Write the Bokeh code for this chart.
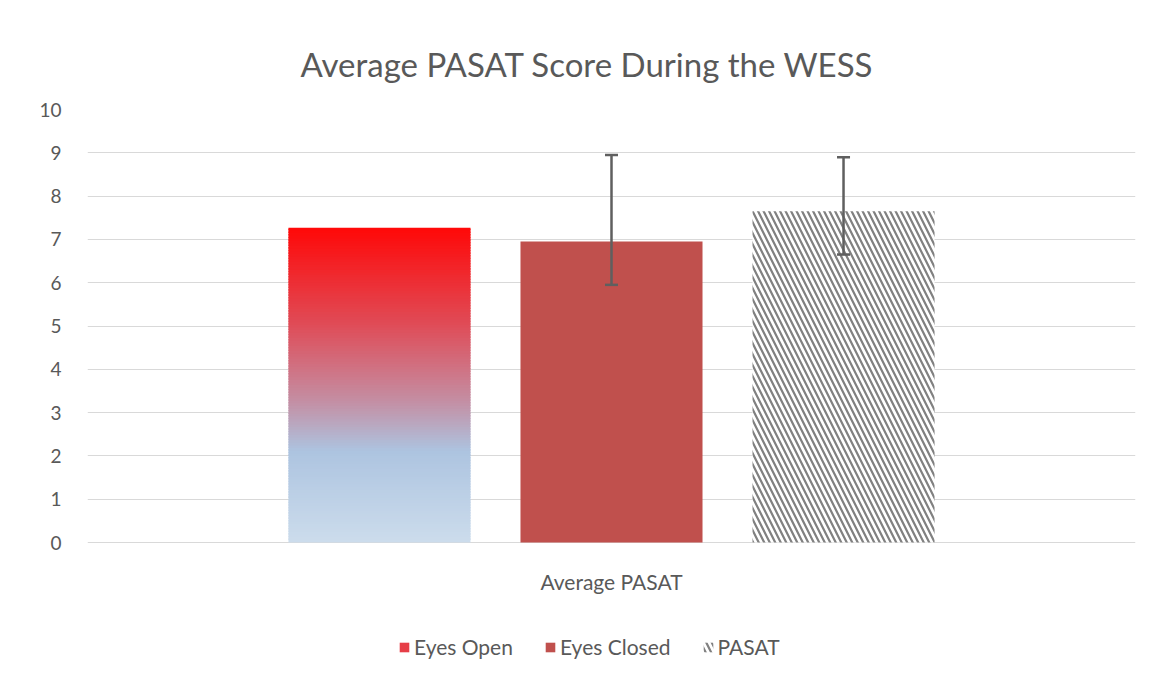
import numpy as np
from bokeh.plotting import figure
from bokeh.models import (FactorRange, Range1d, ColumnDataSource, Whisker, TeeHead,
                          Legend, LegendItem, FixedTicker)
from bokeh.core.properties import value
from bokeh.transform import dodge
from bokeh.embed import file_html
from bokeh.resources import INLINE

# ---- data ----
category = ["Average PASAT"]
series = ["Eyes Open", "Eyes Closed", "PASAT"]
values = [7.27, 6.95, 7.65]
err_lower = [None, 5.95, 6.65]
err_upper = [None, 8.95, 8.90]
y_ticks = list(range(0, 11))

FONT = "Lato"
TXT = "#595959"
offsets = [-0.2214, 0.0, 0.2214]
bw = 0.1737
PX_PER_UNIT = 43.3
FRAME_H = 560
Y_MAX = 10

p = figure(x_range=FactorRange(*category, range_padding=0),
           y_range=Range1d(Y_MAX - FRAME_H / PX_PER_UNIT, Y_MAX),
           frame_width=1048, frame_height=FRAME_H, output_backend="svg", toolbar_location=None,
           min_border_left=87, min_border_right=9, min_border_top=109, min_border_bottom=6)
p.x_range.range_padding = 0
p.outline_line_color = None
p.background_fill_color = "white"
p.border_fill_color = "white"

p.title.text = "Average PASAT Score During the WESS"
p.title.align = "left"
p.title.offset = 213
p.title.text_font = FONT
p.title.text_font_size = "33px"
p.title.text_font_style = "normal"
p.title.text_color = TXT
p.title.standoff = 51

# gridlines / y axis
p.xgrid.grid_line_color = None
p.ygrid.grid_line_color = "#D9D9D9"
p.ygrid.grid_line_width = 1
p.yaxis.ticker = FixedTicker(ticks=y_ticks)
p.yaxis.axis_line_color = None
p.yaxis.major_tick_line_color = None
p.yaxis.minor_tick_line_color = None
p.yaxis.major_label_text_font = FONT
p.yaxis.major_label_text_font_size = "19px"
p.yaxis.major_label_text_color = TXT
p.yaxis.major_label_standoff = 20
p.xaxis.visible = False

# category label under the baseline
p.text(x=category, y=[-0.9], text=category, text_align="center", text_baseline="middle",
       text_font=value(FONT), text_font_size="21px", text_color=TXT)

# ---- Eyes Open: gradient bar drawn as thin slices ----
stops_t = [0.0, 0.30, 0.55, 0.71, 1.0]           # fraction from top of bar
stops_c = [(255, 8, 8), (224, 74, 85), (196, 142, 163), (173, 196, 224), (204, 220, 236)]
N = 120
h = values[0]
edges = np.linspace(0, h, N + 1)
bots, tops, cols = [], [], []
for i in range(N):
    mid = (edges[i] + edges[i + 1]) / 2
    t = 1 - mid / h
    rgb = [int(round(np.interp(t, stops_t, [c[k] for c in stops_c]))) for k in range(3)]
    bots.append(edges[i])
    tops.append(min(edges[i + 1] + h / N * 0.6, h))
    cols.append("#%02x%02x%02x" % tuple(rgb))
src_open = ColumnDataSource(dict(x=category * N, bottom=bots, top=tops, color=cols))
r_open = p.vbar(x=dodge("x", offsets[0], range=p.x_range), bottom="bottom", top="top",
                width=bw, source=src_open, fill_color="color", line_color=None)

# ---- Eyes Closed ----
src_closed = ColumnDataSource(dict(x=category, top=[values[1]], lo=[err_lower[1]], hi=[err_upper[1]]))
r_closed = p.vbar(x=dodge("x", offsets[1], range=p.x_range), top="top", bottom=0, width=bw,
                  source=src_closed, fill_color="#C0504D", line_color=None)

# ---- PASAT (hatched) ----
src_pasat = ColumnDataSource(dict(x=category, top=[values[2]], lo=[err_lower[2]], hi=[err_upper[2]]))
r_pasat = p.vbar(x=dodge("x", offsets[2], range=p.x_range), top="top", bottom=0, width=bw,
                 source=src_pasat, fill_color="white", line_color=None,
                 hatch_pattern="\\", hatch_color="#808080", hatch_weight=2.2, hatch_scale=11)

# error bars
for src, off in [(src_closed, offsets[1]), (src_pasat, offsets[2])]:
    w = Whisker(base=dodge("x", off, range=p.x_range), lower="lo", upper="hi", source=src,
                line_color="#5F5F5F", line_width=2.5, level="overlay",
                upper_head=TeeHead(size=13, line_color="#5F5F5F", line_width=2.5),
                lower_head=TeeHead(size=13, line_color="#5F5F5F", line_width=2.5))
    p.add_layout(w)

legend = Legend(items=[
    LegendItem(label=series[0], renderers=[r_open], index=int(N * 0.75)),
    LegendItem(label=series[1], renderers=[r_closed]),
    LegendItem(label=series[2], renderers=[r_pasat]),
], orientation="horizontal", location=(311, 10))
legend.label_text_font = FONT
legend.label_text_font_size = "21px"
legend.label_text_color = TXT
legend.glyph_width = 12
legend.glyph_height = 12
legend.spacing = 31
legend.label_standoff = 4
legend.border_line_color = None
legend.background_fill_alpha = 0
legend.padding = 0
legend.margin = 0
p.add_layout(legend, "center")

open("out.html", "w").write(file_html(p, INLINE))
